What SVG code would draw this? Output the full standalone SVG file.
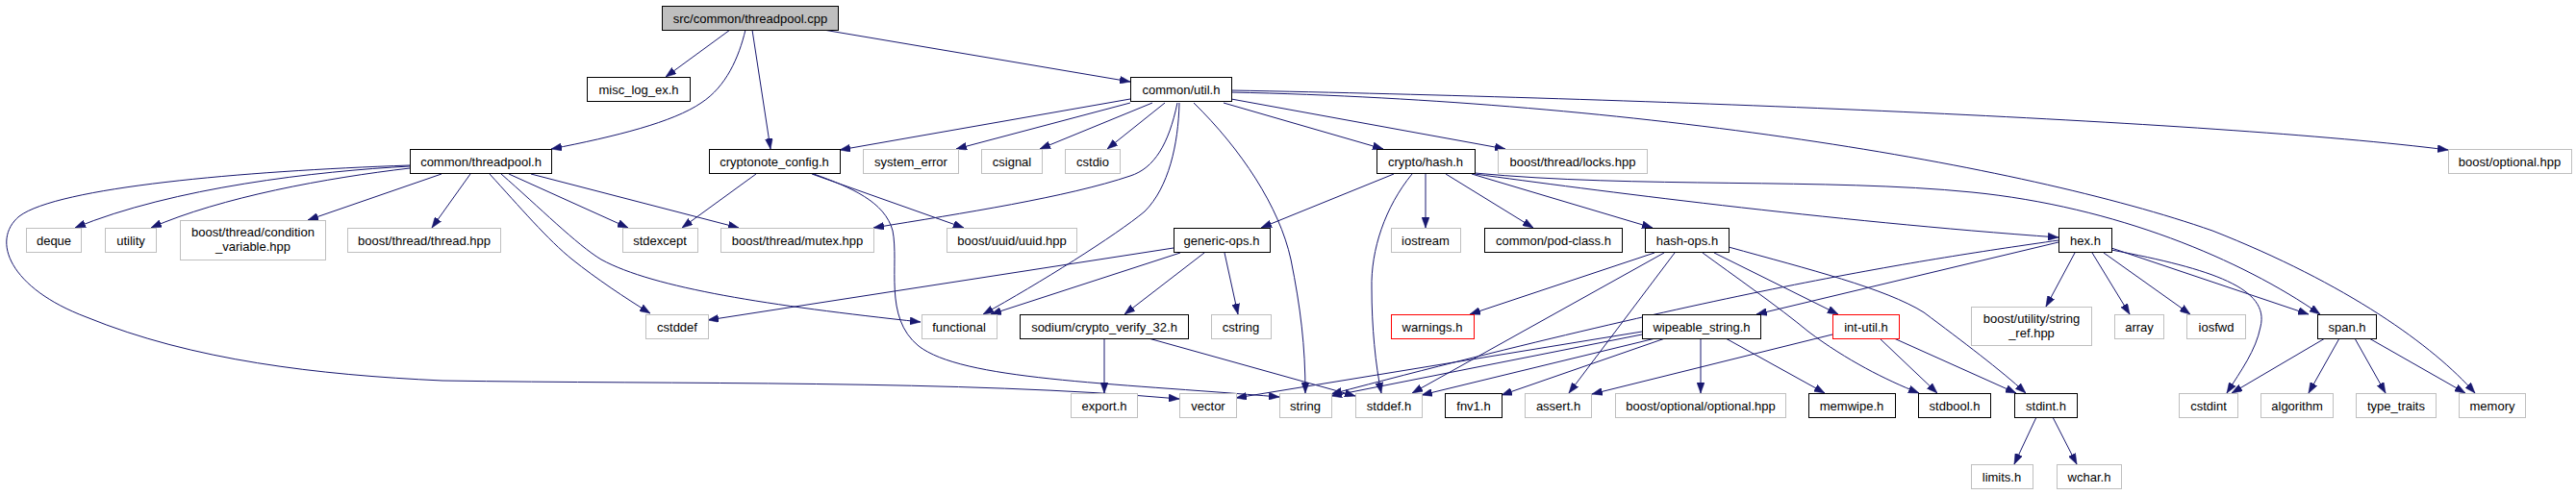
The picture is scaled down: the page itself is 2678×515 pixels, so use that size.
<svg xmlns="http://www.w3.org/2000/svg" width="2678" height="515" viewBox="0 0 2678 515">
<style>
rect{stroke-width:1}
.doc rect{fill:#fff;stroke:#000}
.ext rect{fill:#fff;stroke:#bfbfbf}
.red rect{fill:#fff;stroke:#ff0000}
.root rect{fill:#bfbfbf;stroke:#000}
text{font-family:"Liberation Sans",Arial,Helvetica,sans-serif;font-size:13px;fill:#000;text-anchor:middle}
#edges path{fill:none;stroke:#191970;stroke-width:1;marker-end:url(#ah)}
</style>
<defs>
<marker id="ah" viewBox="0 0 11 8" refX="11" refY="4" markerWidth="11" markerHeight="8" markerUnits="userSpaceOnUse" orient="auto">
<path d="M0,0 L11,4 L0,8 z" fill="#191970" stroke="#191970" stroke-width="0.5"/>
</marker>
</defs>
<rect x="0" y="0" width="2678" height="515" fill="#fff"/>
<g id="edges">
<path d="M759,31 L692,80"/>
<path d="M775,31 C768,60 755,90 729,107 C700,127 640,142 573,155"/>
<path d="M782,31 L801,155"/>
<path d="M856,31 L1175,85"/>
<path d="M1175,103 L873,156"/>
<path d="M1175,107 L994,155"/>
<path d="M1198,107 L1081,155"/>
<path d="M1211,107 L1151,155"/>
<path d="M1224,107 C1215,150 1200,175 1175,183 C1110,205 1000,222 908,237"/>
<path d="M1226,107 C1225,150 1215,195 1190,220 C1160,245 1080,295 1022,327"/>
<path d="M1241,107 C1290,155 1330,215 1342,270 C1352,320 1357,360 1357,409"/>
<path d="M1272,107 L1438,155"/>
<path d="M1280,103 L1565,155"/>
<path d="M1280,94 C1700,102 2300,125 2545,156"/>
<path d="M1280,96 C1700,105 2100,170 2300,240 C2440,295 2530,360 2573,409"/>
<path d="M426,173 C330,178 180,195 78,237"/>
<path d="M426,175 C340,185 230,205 157,237"/>
<path d="M459,181 L320,229"/>
<path d="M489,181 L449,237"/>
<path d="M529,181 L653,237"/>
<path d="M552,181 L768,237"/>
<path d="M509,181 C540,215 570,250 595,270 C620,290 650,310 676,326"/>
<path d="M521,181 C560,215 600,255 625,270 C680,300 800,318 957,335"/>
<path d="M426,172 C250,178 60,195 20,225 C-10,250 10,300 90,330 C200,375 330,390 460,396 C700,400 1000,395 1226,415"/>
<path d="M786,181 L709,237"/>
<path d="M844,181 L1002,237"/>
<path d="M846,181 C885,195 920,210 928,240 C935,275 918,330 955,360 C1000,395 1150,398 1330,413"/>
<path d="M1449,181 L1311,237"/>
<path d="M1468,181 C1440,215 1425,260 1426,300 C1426,340 1430,380 1436,409"/>
<path d="M1482,181 L1482,237"/>
<path d="M1503,181 L1594,237"/>
<path d="M1530,181 L1718,237"/>
<path d="M1533,181 C1650,197 1900,230 2140,247"/>
<path d="M1533,180 C1700,196 1900,185 2050,200 C2200,215 2330,270 2412,327"/>
<path d="M1220,258 L736,333"/>
<path d="M1227,263 L1030,327"/>
<path d="M1252,263 L1169,327"/>
<path d="M1273,263 L1287,327"/>
<path d="M1148,352 L1148,409"/>
<path d="M1194,352 L1409,412"/>
<path d="M1720,263 L1528,327"/>
<path d="M1730,263 L1468,409"/>
<path d="M1741,263 L1631,409"/>
<path d="M1782,263 L1911,327"/>
<path d="M1770,263 C1800,285 1850,320 1880,345 C1920,375 1960,395 1995,409"/>
<path d="M1797,257 C1880,280 1960,300 2000,325 C2040,355 2080,385 2106,409"/>
<path d="M1905,348 L1655,410"/>
<path d="M1954,352 L2014,409"/>
<path d="M1969,352 L2096,409"/>
<path d="M1768,352 L1768,409"/>
<path d="M1794,352 L1897,409"/>
<path d="M1731,352 L1561,411"/>
<path d="M1721,352 L1478,411"/>
<path d="M1707,348 L1384,412"/>
<path d="M1707,345 L1285,414"/>
<path d="M2140,250 C2000,270 1800,300 1384,410"/>
<path d="M2140,252 L1826,327"/>
<path d="M2157,263 L2127,319"/>
<path d="M2175,263 L2214,327"/>
<path d="M2187,263 L2277,327"/>
<path d="M2195,258 L2400,327"/>
<path d="M2195,260 C2300,280 2360,300 2350,340 C2345,365 2330,385 2315,409"/>
<path d="M2417,352 L2320,409"/>
<path d="M2432,352 L2400,409"/>
<path d="M2448,352 L2480,409"/>
<path d="M2463,352 L2563,409"/>
<path d="M2117,434 L2094,483"/>
<path d="M2134,434 L2159,483"/>
</g>
<g id="n_root" class="root"><rect x="688.5" y="6.5" width="183" height="25"/><text x="780" y="23.5">src/common/threadpool.cpp</text></g>
<g id="n_misc" class="doc"><rect x="610.5" y="80.5" width="107" height="25"/><text x="664" y="97.5">misc_log_ex.h</text></g>
<g id="n_util" class="doc"><rect x="1175.5" y="80.5" width="105" height="25"/><text x="1228" y="97.5">common/util.h</text></g>
<g id="n_tph" class="doc"><rect x="426.5" y="155.5" width="147" height="25"/><text x="500" y="172.5">common/threadpool.h</text></g>
<g id="n_cfg" class="doc"><rect x="737.5" y="155.5" width="136" height="25"/><text x="805" y="172.5">cryptonote_config.h</text></g>
<g id="n_syserr" class="ext"><rect x="897.5" y="155.5" width="99" height="25"/><text x="947" y="172.5">system_error</text></g>
<g id="n_csignal" class="ext"><rect x="1020.5" y="155.5" width="63" height="25"/><text x="1052" y="172.5">csignal</text></g>
<g id="n_cstdio" class="ext"><rect x="1107.5" y="155.5" width="57" height="25"/><text x="1136" y="172.5">cstdio</text></g>
<g id="n_hash" class="doc"><rect x="1431.5" y="155.5" width="102" height="25"/><text x="1482" y="172.5">crypto/hash.h</text></g>
<g id="n_locks" class="ext"><rect x="1557.5" y="155.5" width="155" height="25"/><text x="1635" y="172.5">boost/thread/locks.hpp</text></g>
<g id="n_boptional" class="ext"><rect x="2545.5" y="155.5" width="128" height="25"/><text x="2609" y="172.5">boost/optional.hpp</text></g>
<g id="n_deque" class="ext"><rect x="27.5" y="237.5" width="57" height="25"/><text x="56" y="254.5">deque</text></g>
<g id="n_utility" class="ext"><rect x="109.5" y="237.5" width="53" height="25"/><text x="136" y="254.5">utility</text></g>
<g id="n_condvar" class="ext"><rect x="187.5" y="229.5" width="151" height="41"/><text x="263" y="246">boost/thread/condition</text><text x="263" y="261">_variable.hpp</text></g>
<g id="n_thread" class="ext"><rect x="361.5" y="237.5" width="159" height="25"/><text x="441" y="254.5">boost/thread/thread.hpp</text></g>
<g id="n_stdexcept" class="ext"><rect x="647.5" y="237.5" width="78" height="25"/><text x="686" y="254.5">stdexcept</text></g>
<g id="n_mutex" class="ext"><rect x="749.5" y="237.5" width="159" height="25"/><text x="829" y="254.5">boost/thread/mutex.hpp</text></g>
<g id="n_uuid" class="ext"><rect x="984.5" y="237.5" width="135" height="25"/><text x="1052" y="254.5">boost/uuid/uuid.hpp</text></g>
<g id="n_genops" class="doc"><rect x="1220.5" y="237.5" width="100" height="25"/><text x="1270" y="254.5">generic-ops.h</text></g>
<g id="n_iostream" class="ext"><rect x="1446.5" y="237.5" width="72" height="25"/><text x="1482" y="254.5">iostream</text></g>
<g id="n_pod" class="doc"><rect x="1543.5" y="237.5" width="143" height="25"/><text x="1615" y="254.5">common/pod-class.h</text></g>
<g id="n_hashops" class="doc"><rect x="1710.5" y="237.5" width="87" height="25"/><text x="1754" y="254.5">hash-ops.h</text></g>
<g id="n_hex" class="doc"><rect x="2140.5" y="237.5" width="55" height="25"/><text x="2168" y="254.5">hex.h</text></g>
<g id="n_cstddef" class="ext"><rect x="671.5" y="327.5" width="65" height="25"/><text x="704" y="344.5">cstddef</text></g>
<g id="n_functional" class="ext"><rect x="958.5" y="327.5" width="78" height="25"/><text x="997" y="344.5">functional</text></g>
<g id="n_sodium" class="doc"><rect x="1060.5" y="327.5" width="175" height="25"/><text x="1148" y="344.5">sodium/crypto_verify_32.h</text></g>
<g id="n_cstring" class="ext"><rect x="1259.5" y="327.5" width="62" height="25"/><text x="1290" y="344.5">cstring</text></g>
<g id="n_warnings" class="red"><rect x="1446.5" y="327.5" width="86" height="25"/><text x="1489" y="344.5">warnings.h</text></g>
<g id="n_wipeable" class="doc"><rect x="1707.5" y="327.5" width="123" height="25"/><text x="1769" y="344.5">wipeable_string.h</text></g>
<g id="n_intutil" class="red"><rect x="1905.5" y="327.5" width="69" height="25"/><text x="1940" y="344.5">int-util.h</text></g>
<g id="n_stringref" class="ext"><rect x="2049.5" y="319.5" width="125" height="40"/><text x="2112" y="336">boost/utility/string</text><text x="2112" y="351">_ref.hpp</text></g>
<g id="n_array" class="ext"><rect x="2198.5" y="327.5" width="51" height="25"/><text x="2224" y="344.5">array</text></g>
<g id="n_iosfwd" class="ext"><rect x="2273.5" y="327.5" width="61" height="25"/><text x="2304" y="344.5">iosfwd</text></g>
<g id="n_span" class="doc"><rect x="2409.5" y="327.5" width="61" height="25"/><text x="2440" y="344.5">span.h</text></g>
<g id="n_export" class="ext"><rect x="1113.5" y="409.5" width="69" height="25"/><text x="1148" y="426.5">export.h</text></g>
<g id="n_vector" class="ext"><rect x="1226.5" y="409.5" width="59" height="25"/><text x="1256" y="426.5">vector</text></g>
<g id="n_string" class="ext"><rect x="1330.5" y="409.5" width="54" height="25"/><text x="1357" y="426.5">string</text></g>
<g id="n_stddef" class="ext"><rect x="1409.5" y="409.5" width="69" height="25"/><text x="1444" y="426.5">stddef.h</text></g>
<g id="n_fnv1" class="doc"><rect x="1502.5" y="409.5" width="59" height="25"/><text x="1532" y="426.5">fnv1.h</text></g>
<g id="n_assert" class="ext"><rect x="1585.5" y="409.5" width="69" height="25"/><text x="1620" y="426.5">assert.h</text></g>
<g id="n_optopt" class="ext"><rect x="1679.5" y="409.5" width="177" height="25"/><text x="1768" y="426.5">boost/optional/optional.hpp</text></g>
<g id="n_memwipe" class="doc"><rect x="1880.5" y="409.5" width="90" height="25"/><text x="1925" y="426.5">memwipe.h</text></g>
<g id="n_stdbool" class="doc"><rect x="1994.5" y="409.5" width="75" height="25"/><text x="2032" y="426.5">stdbool.h</text></g>
<g id="n_stdint" class="doc"><rect x="2094.5" y="409.5" width="65" height="25"/><text x="2127" y="426.5">stdint.h</text></g>
<g id="n_cstdint" class="ext"><rect x="2265.5" y="409.5" width="61" height="25"/><text x="2296" y="426.5">cstdint</text></g>
<g id="n_algorithm" class="ext"><rect x="2350.5" y="409.5" width="75" height="25"/><text x="2388" y="426.5">algorithm</text></g>
<g id="n_typetraits" class="ext"><rect x="2449.5" y="409.5" width="83" height="25"/><text x="2491" y="426.5">type_traits</text></g>
<g id="n_memory" class="ext"><rect x="2556.5" y="409.5" width="69" height="25"/><text x="2591" y="426.5">memory</text></g>
<g id="n_limits" class="ext"><rect x="2049.5" y="483.5" width="64" height="25"/><text x="2081" y="500.5">limits.h</text></g>
<g id="n_wchar" class="ext"><rect x="2138.5" y="483.5" width="67" height="25"/><text x="2172" y="500.5">wchar.h</text></g>
</svg>
